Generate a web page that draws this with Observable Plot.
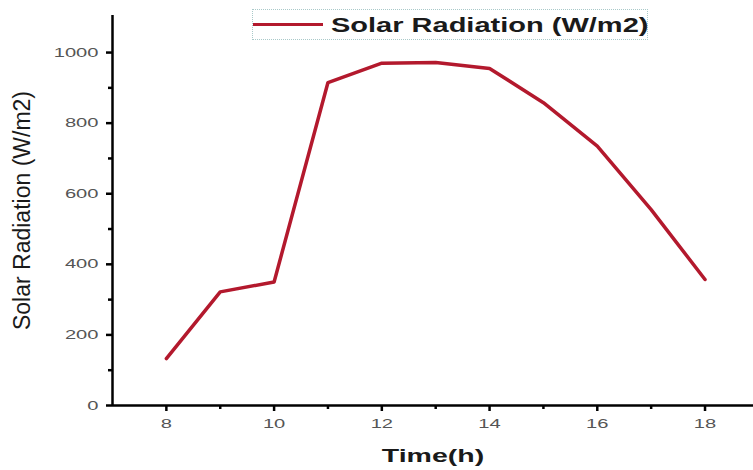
<!DOCTYPE html>
<html>
<head>
<meta charset="utf-8">
<script src="https://cdn.jsdelivr.net/npm/d3@7"></script>
<script src="https://cdn.jsdelivr.net/npm/@observablehq/plot@0.6"></script>
<style>
  body { margin: 0; background: #fff; }
  #chart { position: relative; width: 753px; height: 470px; font-family: "Liberation Sans", Arial, sans-serif; }
  #chart svg { display: block; }
  .legend {
    position: absolute; left: 252px; top: 9px; width: 396px; height: 31px;
    border: 1px dotted #a9c9c9; box-sizing: border-box; background: #fff;
  }
  .legend .swatch { position: absolute; left: 0; top: 13px; width: 70px; height: 0; border-top: 3.5px solid #b3192d; }
  .legend .name {
    position: absolute; left: 78px; top: 3px; font-weight: bold; font-size: 20px; line-height: 24px;
    color: #1a1a1a; white-space: nowrap; transform: scaleX(1.45); transform-origin: 0 50%;
  }
</style>
</head>
<body>
<div id="chart"></div>
<script>
// Hourly solar radiation readings
const hours = [8, 9, 10, 11, 12, 13, 14, 15, 16, 17, 18];
const radiation = [133, 322, 350, 915, 970, 972, 955, 858, 735, 555, 357];

// Axis ticks
const majorX = [8, 10, 12, 14, 16, 18];
const minorX = [9, 11, 13, 15, 17];
const majorY = [0, 200, 400, 600, 800, 1000];
const minorY = [100, 300, 500, 700, 900];

const seriesName = "Solar Radiation (W/m2)";
const xTitle = "Time(h)";
const yTitle = "Solar Radiation (W/m2)";
const lineColor = "#b3192d";

const rows = hours.map((h, i) => ({hour: h, value: radiation[i]}));

const xMin = 7; // left end of the time axis
const yMin = 0; // bottom of the radiation axis

const chart = Plot.plot({
  width: 753,
  height: 470,
  marginLeft: 112,
  marginRight: 0,
  marginTop: 15,
  marginBottom: 65,
  x: {domain: [xMin, 18.9]},
  y: {domain: [yMin, 1105]},
  style: {fontFamily: "'Liberation Sans', Arial, sans-serif", background: "transparent", overflow: "visible"},
  marks: [
    // outward tick marks hanging off the axis lines
    Plot.ruleX(minorX, {x: d => d, y1: () => yMin, y2: () => yMin, insetBottom: -4, stroke: "black", strokeWidth: 2.5}),
    Plot.ruleX(majorX, {x: d => d, y1: () => yMin, y2: () => yMin, insetBottom: -6, stroke: "black", strokeWidth: 2.5}),
    Plot.ruleY(minorY, {y: d => d, x1: () => xMin, x2: () => xMin, insetLeft: -4, stroke: "black", strokeWidth: 2.5}),
    Plot.ruleY(majorY, {y: d => d, x1: () => xMin, x2: () => xMin, insetLeft: -6, stroke: "black", strokeWidth: 2.5}),
    // tick labels
    Plot.axisX(majorX, {tickSize: 0, tickPadding: 13, fill: "#555", fontSize: 13, tickFormat: d => String(d), label: null}),
    Plot.axisY(majorY, {tickSize: 0, tickPadding: 14, fill: "#555", fontSize: 13, tickFormat: d => String(d), label: null}),
    // axis lines
    Plot.ruleY([yMin], {stroke: "black", strokeWidth: 2.5}),
    Plot.ruleX([xMin], {stroke: "black", strokeWidth: 2.5}),
    Plot.line(rows, {x: "hour", y: "value", stroke: lineColor, strokeWidth: 3.5}),
    Plot.text([xTitle], {frameAnchor: "bottom", dy: 50, fontSize: 19, fontWeight: "bold", fill: "#1a1a1a", lineAnchor: "middle"}),
    Plot.text([yTitle], {frameAnchor: "left", dx: -90, rotate: -90, textAnchor: "middle", fontSize: 23, fill: "#1a1a1a", lineAnchor: "middle"})
  ]
});

// Widen the tick labels and the x title horizontally
d3.select(chart).selectAll('g[aria-label$="tick label"] text').each(function() {
  const t = this.getAttribute("transform") || "";
  this.setAttribute("transform", t + " scale(1.55,1)");
});
d3.select(chart).selectAll('g[aria-label="text"] text').filter(function() { return this.textContent === xTitle; }).each(function() {
  const t = this.getAttribute("transform") || "";
  this.setAttribute("transform", t + " scale(1.5,1)");
});

const host = document.getElementById("chart");
host.appendChild(chart);

const legend = document.createElement("div");
legend.className = "legend";
legend.innerHTML = `<div class="swatch"></div><div class="name"></div>`;
legend.querySelector(".name").textContent = seriesName;
legend.querySelector(".swatch").style.borderTopColor = lineColor;
host.appendChild(legend);
</script>
</body>
</html>
